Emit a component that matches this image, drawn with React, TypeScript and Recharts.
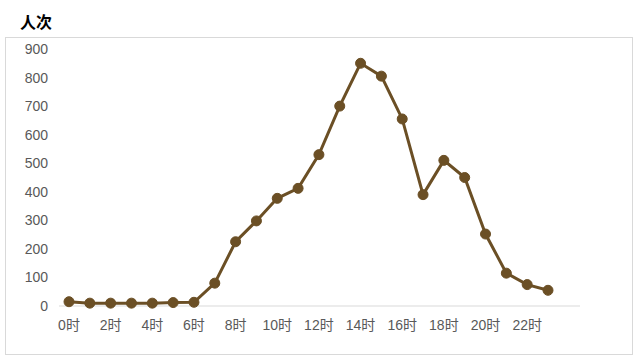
import { LineChart, Line, XAxis, YAxis } from "recharts";

const hours = [
  "0时", "1时", "2时", "3时", "4时", "5时", "6时", "7时", "8时", "9时", "10时", "11时",
  "12时", "13时", "14时", "15时", "16时", "17时", "18时", "19时", "20时", "21时", "22时", "23时",
];
const visits = [
  15, 10, 10, 10, 10, 12, 13, 80, 225, 298, 377, 412,
  530, 700, 850, 805, 655, 390, 510, 450, 252, 115, 75, 55,
];
const yTicks = [0, 100, 200, 300, 400, 500, 600, 700, 800, 900];

const data = hours.map((h, i) => ({ hour: h, value: visits[i] }));

const brown = "#6b4f25";
const tickStyle = { fill: "#595959", fontSize: 14, fontFamily: "'Liberation Sans', 'Noto Sans CJK SC', sans-serif" };

export default function App() {
  return (
    <div style={{ position: "absolute", left: 0, top: 0, width: 640, height: 364, background: "#fff" }}>
      <div
        style={{
          position: "absolute",
          left: 20,
          top: 9,
          fontSize: 16,
          fontWeight: "bold",
          color: "#000",
          fontFamily: "'Noto Sans CJK SC', sans-serif",
        }}
      >
        人次
      </div>
      <div
        style={{
          position: "absolute",
          left: 5,
          top: 37,
          width: 626,
          height: 316,
          border: "1px solid #d9d9d9",
        }}
      />
      <div style={{ position: "absolute", left: 0, top: 0 }}>
        <LineChart width={640} height={364} data={data} margin={{ top: 49, right: 60, bottom: 28, left: 0 }}>
          <XAxis
            dataKey="hour"
            interval={1}
            padding={{ left: 10, right: 32 }}
            tickLine={false}
            tickSize={0}
            tickMargin={14}
            height={30}
            axisLine={{ stroke: "#d9d9d9" }}
            tick={tickStyle}
          />
          <YAxis
            domain={[0, 900]}
            ticks={yTicks}
            width={59}
            axisLine={false}
            tickLine={false}
            tickSize={0}
            tickMargin={11}
            tick={tickStyle}
          />
          <Line
            type="linear"
            dataKey="value"
            stroke={brown}
            strokeWidth={3}
            dot={{ r: 5, fill: brown, stroke: brown, strokeWidth: 1 }}
            isAnimationActive={false}
          />
        </LineChart>
      </div>
    </div>
  );
}
